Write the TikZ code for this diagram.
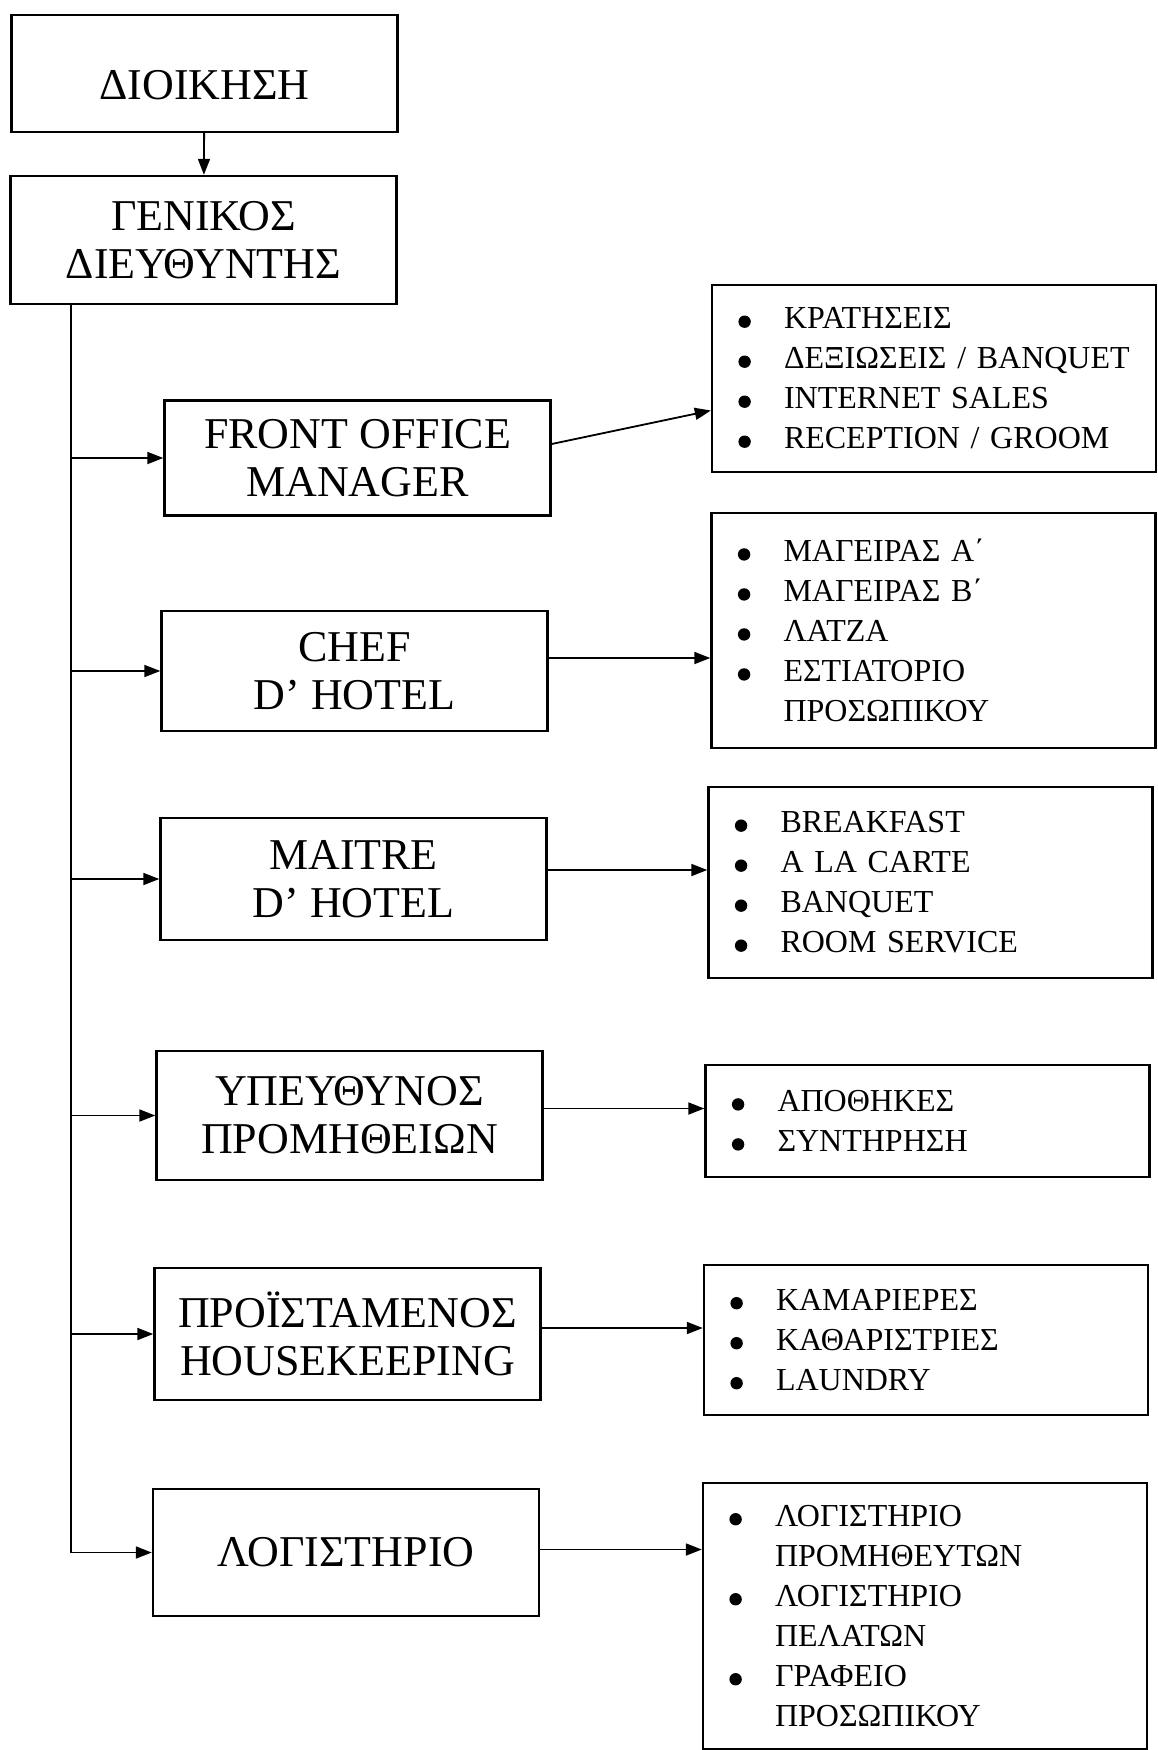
\documentclass[tikz,border=0pt]{standalone}
\usepackage{fontspec}
\setmainfont{Liberation Serif}
\usetikzlibrary{arrows.meta,positioning}
\newcommand{\bul}{\makebox[22pt][l]{\hspace{-0.8pt}\tikz[x=1pt,y=1pt,baseline=-3.6pt]\fill (0,0) circle (3.1);}}
\newcommand{\nobul}{\hspace*{22pt}}

\begin{document}
\begin{tikzpicture}[x=0.5pt, y=-0.5pt,
  >={Triangle[length=8pt,width=6pt]}, line width=0.9pt,
  box/.style={draw, line width=1.2pt, align=center, inner sep=0pt,
    minimum width=193pt, minimum height=61pt, font=\fontsize{22}{24}\selectfont},
  lst/.style={draw, line width=1.2pt, align=left, inner xsep=14pt, inner ysep=0pt,
    text width=194pt, font=\fontsize{16}{20}\selectfont}]
  \useasboundingbox (0,0) rectangle (1157,1750);

  \node[box, minimum height=58.5pt, text height=25.6pt, text depth=0pt] (dioik) at (204.5,73.5) {ΔΙΟΙΚΗΣΗ};
  \node[box, minimum height=64pt] (genikos) at (203.5,240) {ΓΕΝΙΚΟΣ\\ΔΙΕΥΘΥΝΤΗΣ};
  \node[box, minimum height=57.5pt] (front) at (357.5,458) {FRONT OFFICE\\MANAGER};
  \node[box, minimum height=60pt] (chef) at (354.5,671) {CHEF\\D’ HOTEL};
  \node[box] (maitre) at (353.5,879) {MAITRE\\D’ HOTEL};
  \node[box, minimum height=64.5pt] (prom) at (349.5,1115.5) {ΥΠΕΥΘΥΝΟΣ\\ΠΡΟΜΗΘΕΙΩΝ};
  \node[box, minimum height=66pt] (house) at (347.5,1334) {ΠΡΟΪΣΤΑΜΕΝΟΣ\\HOUSEKEEPING};
  \node[box, minimum height=63.5pt] (logist) at (346,1552.5) {ΛΟΓΙΣΤΗΡΙΟ};

  \node[lst, minimum height=93.5pt] (frontL) at (934,378.5)
    {\bul ΚΡΑΤΗΣΕΙΣ\\ \bul \mbox{ΔΕΞΙΩΣΕΙΣ / BANQUET}\\ \bul INTERNET SALES\\ \bul RECEPTION / GROOM};
  \node[lst, minimum height=117.5pt] (chefL) at (933.5,630.5)
    {\bul ΜΑΓΕΙΡΑΣ Α΄\\ \bul ΜΑΓΕΙΡΑΣ Β΄\\ \bul ΛΑΤΖΑ\\ \bul ΕΣΤΙΑΤΟΡΙΟ\\ \nobul ΠΡΟΣΩΠΙΚΟΥ};
  \node[lst, minimum height=95.5pt] (maitreL) at (930.5,882.5)
    {\bul BREAKFAST\\ \bul A LA CARTE\\ \bul BANQUET\\ \bul ROOM SERVICE};
  \node[lst, minimum height=56pt] (promL) at (927.5,1121)
    {\bul ΑΠΟΘΗΚΕΣ\\ \bul ΣΥΝΤΗΡΗΣΗ};
  \node[lst, minimum height=75pt] (houseL) at (926,1340)
    {\bul ΚΑΜΑΡΙΕΡΕΣ\\ \bul ΚΑΘΑΡΙΣΤΡΙΕΣ\\ \bul LAUNDRY};
  \node[lst, minimum height=133pt] (logistL) at (925,1616)
    {\bul ΛΟΓΙΣΤΗΡΙΟ\\ \nobul ΠΡΟΜΗΘΕΥΤΩΝ\\ \bul ΛΟΓΙΣΤΗΡΙΟ\\ \nobul ΠΕΛΑΤΩΝ\\ \bul ΓΡΑΦΕΙΟ\\ \nobul ΠΡΟΣΩΠΙΚΟΥ};

  \draw[->] (dioik) -- (genikos);
  \draw ([xshift=31pt]genikos.south west) coordinate (trunk) -- (trunk |- logist.west);
  \foreach \n in {front,chef,maitre,prom,house,logist}
    \draw[->] (trunk |- \n.west) -- (\n.west);

  \draw[->] ([yshift=7pt]front.east) -- ([yshift=-16pt]frontL.west);
  \foreach \a/\s in {chef/6.5,maitre/4.5,prom/3.5,house/3,logist/1.5} {
    \path ([yshift=\s pt]\a.east) coordinate (s);
    \draw[->] (s) -- (s -| \a L.west);
  }
\end{tikzpicture}
\end{document}
